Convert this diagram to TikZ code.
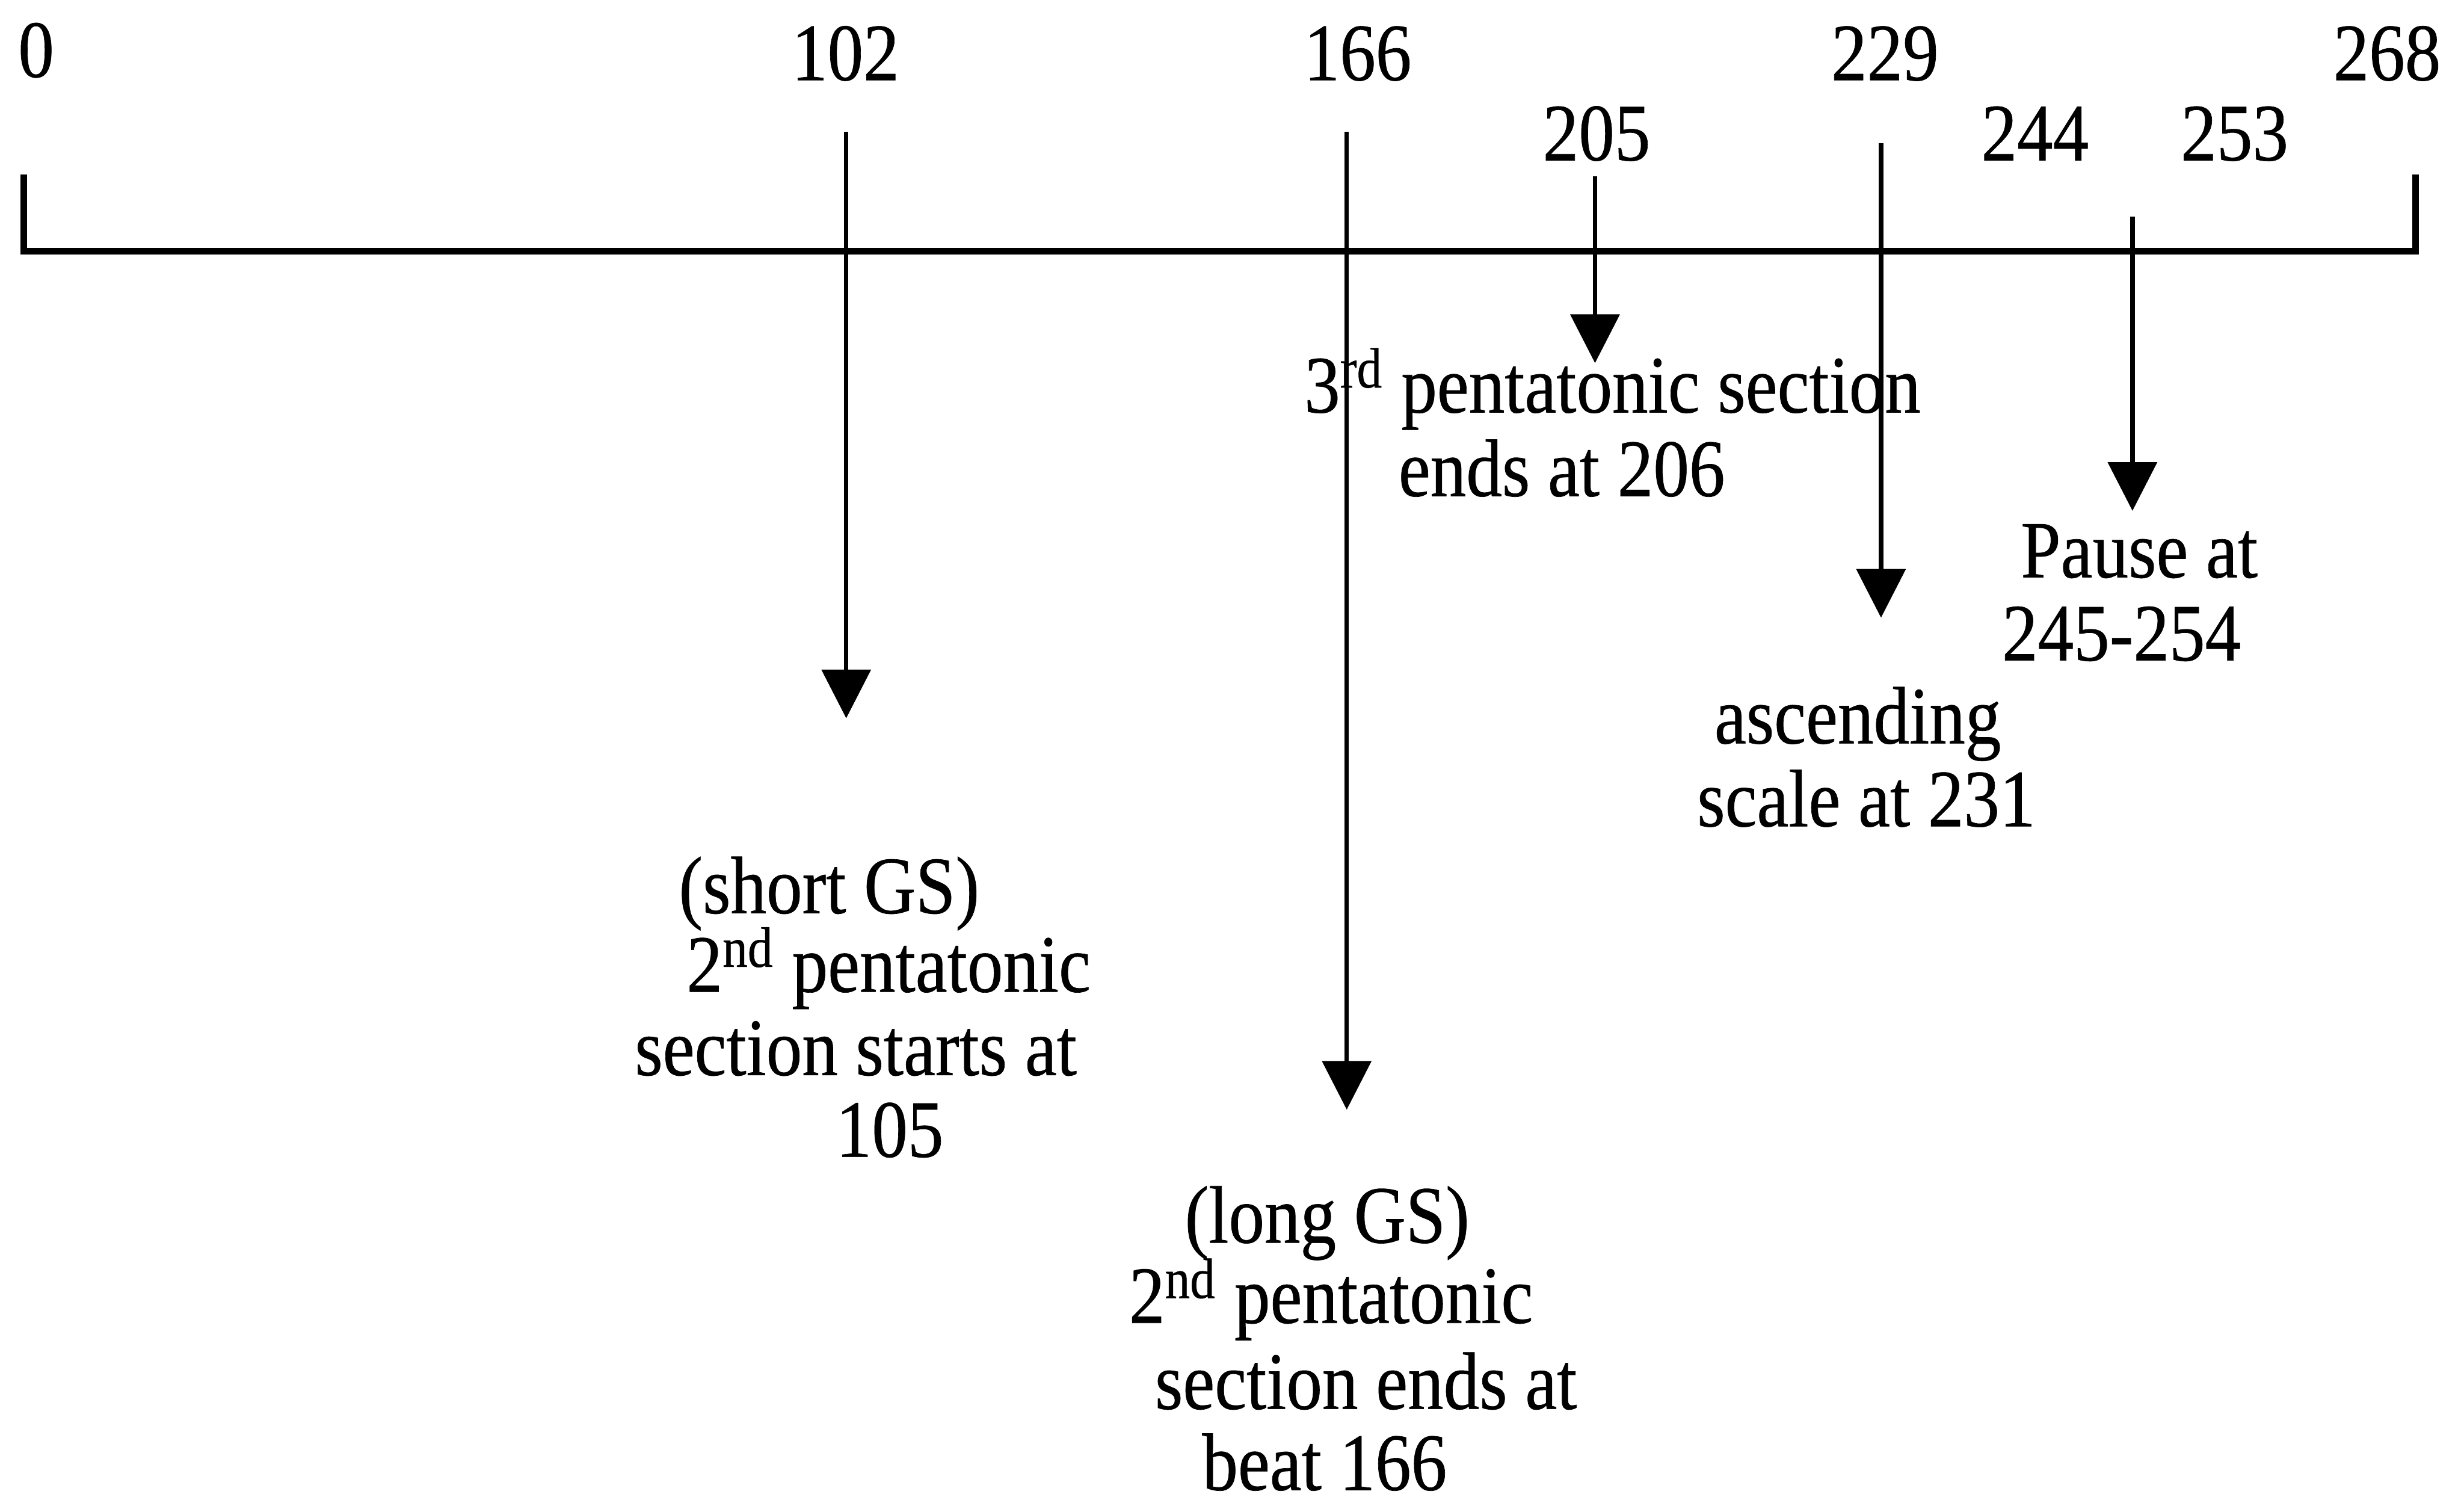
\documentclass[tikz,border=0pt]{standalone}
\usepackage{fontspec}
\setmainfont{Liberation Serif}[FakeStretch=0.88,FakeBold=0.5]
\usetikzlibrary{arrows.meta}
\begin{document}
\begin{tikzpicture}[x=0.02cm, y=-0.02cm,
  lbl/.style={inner sep=0pt, outer sep=0pt, anchor=base west, font=\fontsize{29.5}{32}\selectfont},
  num/.style={lbl, anchor=base},
  axisline/.style={line width=2.4pt},
  arr/.style={line width=1.6pt, -{Triangle[width=0.62cm,length=0.62cm]}}]
\useasboundingbox (0,0) rectangle (1568,956);

% axis
\coordinate (al) at (15,111);
\coordinate (ab) at (15,160);
\coordinate (rb) at (1537,160);
\coordinate (ar) at (1537,111);
\draw[axisline] (al) -- (ab) -- (rb) -- (ar);

% tick numbers
\node[num] (n0)   at (23,49)    {0};
\node[num] (n102) at (538,51)   {102};
\node[num] (n166) at (864,51)   {166};
\node[num] (n229) at (1199.5,51) {229};
\node[num] (n268) at (1519,51)  {268};
\node[num] (n205) at (1016,102) {205};
\node[num] (n244) at (1295,102) {244};
\node[num] (n253) at (1422,102) {253};

% labels
\node[lbl] (s1) at (432,581) {(short GS)};
\node[lbl] (s2) at (437,631) {2\textsuperscript{nd} pentatonic};
\node[lbl] (s3) at (404,684) {section starts at};
\node[lbl] (s4) at (532,736) {105};

\node[lbl] (l1) at (754,790.6) {(long GS)};
\node[lbl] (l2) at (718.5,841.7) {2\textsuperscript{nd} pentatonic};
\node[lbl] (l3) at (735,896.4) {section ends at};
\node[lbl] (l4) at (765,948) {beat 166};

\node[lbl] (t1) at (830,262.4) {3\textsuperscript{rd} pentatonic section};
\node[lbl] (t2) at (890,315.6) {ends at 206};

\node[lbl] (p1) at (1286,367.4) {Pause at};
\node[lbl] (p2) at (1274,420.2) {245-254};

\node[lbl] (c1) at (1091,473) {ascending};
\node[lbl] (c2) at (1080,525.7) {scale at 231};

% arrows
\coordinate (a102s) at (538.5,84);  \coordinate (a102e) at (538.5,457);
\coordinate (a166s) at (857,84);    \coordinate (a166e) at (857,706);
\coordinate (a205s) at (1015,112);  \coordinate (a205e) at (1015,231);
\coordinate (a229s) at (1197,91);   \coordinate (a229e) at (1197,393);
\coordinate (a253s) at (1357,138);  \coordinate (a253e) at (1357,325);
\draw[arr] (a102s) -- (a102e);
\draw[arr] (a166s) -- (a166e);
\draw[arr] (a205s) -- (a205e);
\draw[arr] (a229s) -- (a229e);
\draw[arr] (a253s) -- (a253e);
\end{tikzpicture}
\end{document}
